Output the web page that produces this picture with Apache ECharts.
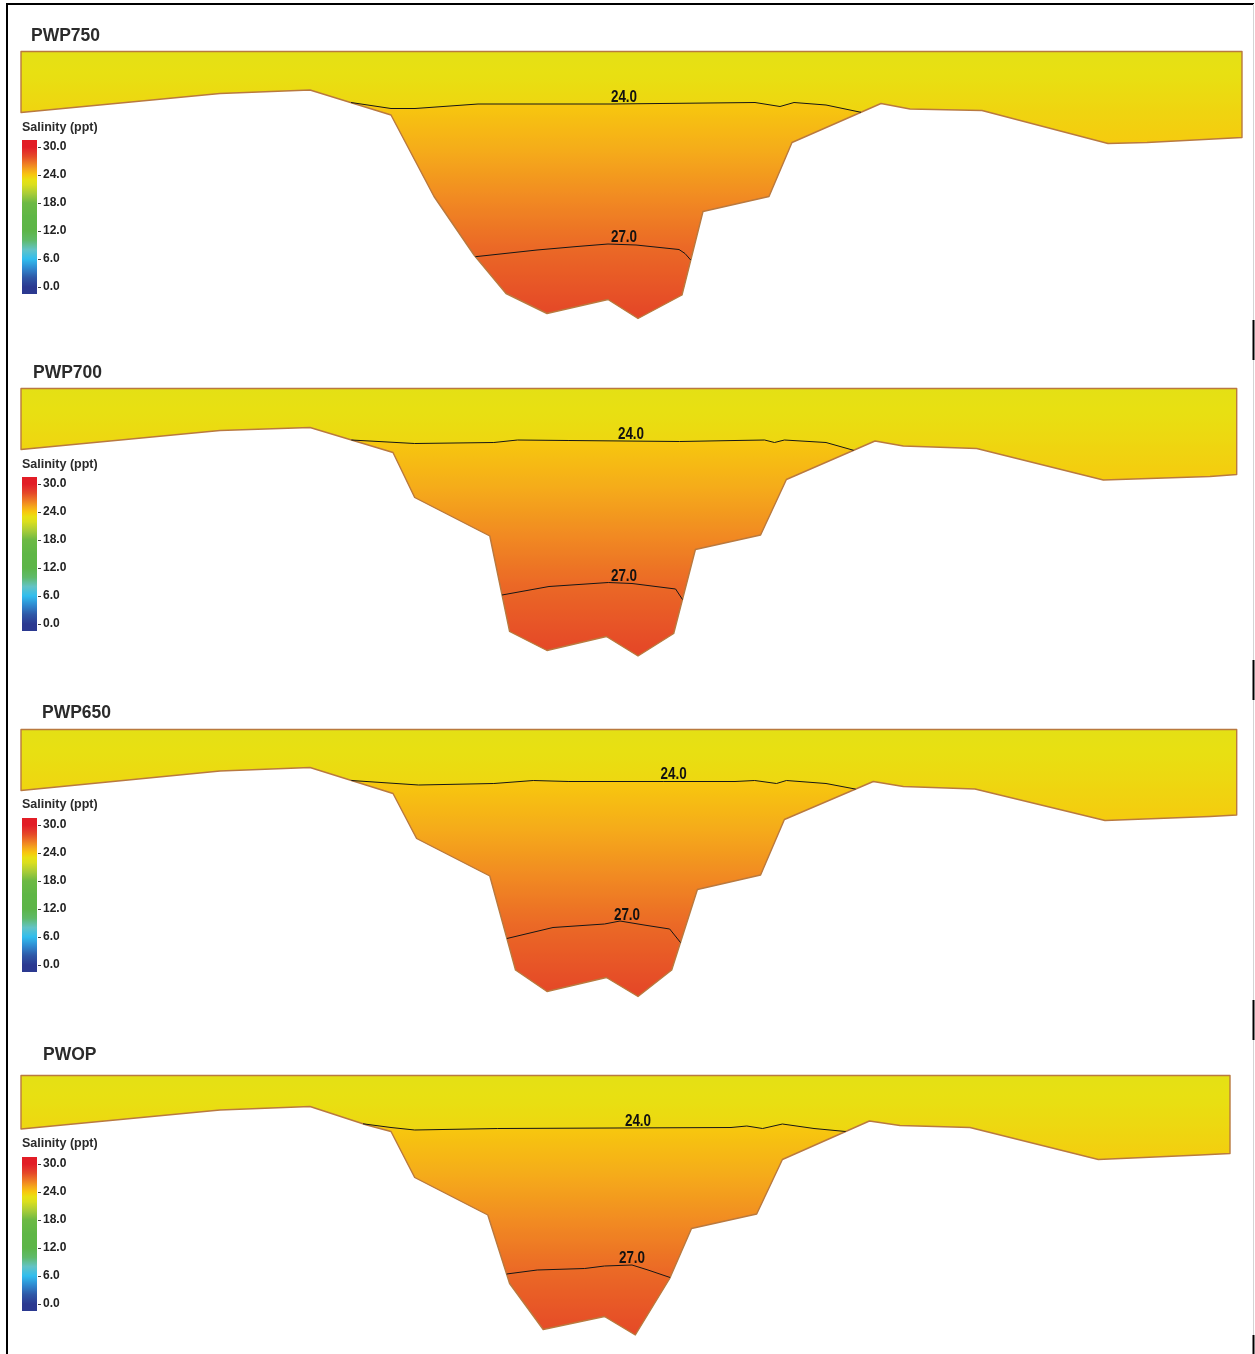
<!DOCTYPE html>
<html>
<head>
<meta charset="utf-8">
<title>Salinity cross-sections</title>
<script src="https://cdn.jsdelivr.net/npm/echarts@6/dist/echarts.min.js"></script>
<style>
  html, body { margin: 0; padding: 0; background: #ffffff; }
  #chart { width: 1255px; height: 1354px; }
</style>
</head>
<body>
<div id="chart"></div>
<script>
// ---- Data -------------------------------------------------------------
// Cross-section geometry: [distance along section, depth below surface]
const panelNames = ['PWP750', 'PWP700', 'PWP650', 'PWOP'];
const contourLevels = [24, 27];
const legendTicks = [0, 6, 12, 18, 24, 30];

const pwp750Bed = [[0,6.1],[199,4.2],[289,3.85],[370,6.35],[413,14.5],[453,20.35],[485,24.2],[526,26.2],[587,24.8],[617,26.7],[661,24.35],[682,16.0],[748,14.5],[771,9.1],[860,5.2],[889,5.75],[961,5.9],[1087,9.2],[1126,9.1],[1221,8.6]];
const pwp750Iso24 = [[330,5.1],[370,5.7],[394,5.7],[457,5.25],[591,5.25],[734,5.1],[759,5.5],[773,5.1],[805,5.35],[840,6.08]];
const pwp750Iso27 = [[454.4,20.52],[516,19.85],[556,19.5],[587,19.25],[615,19.35],[658,19.8],[664,20.2],[669.7,20.85]];

const pwp700Bed = [[0,6.1],[199,4.2],[289,3.9],[372,6.4],[393.7,10.9],[468.8,14.75],[488.6,24.3],[526,26.2],[585.4,24.8],[617,26.75],[652.7,24.5],[674.4,16.1],[739.6,14.65],[765.4,9.1],[854,5.25],[882.3,5.75],[955.7,6.0],[1082.3,9.15],[1189,8.8],[1215.7,8.6]];
const pwp700Iso24 = [[330.4,5.15],[393.7,5.5],[472.8,5.4],[496.5,5.15],[547.9,5.2],[658.6,5.3],[714,5.2],[743.6,5.15],[753.5,5.4],[763.4,5.15],[805,5.4],[832.6,6.18]];
const pwp700Iso27 = [[481,20.65],[528,19.8],[587.4,19.4],[611,19.5],[654.6,20.05],[661.5,21.1]];

const pwp650Bed = [[0,6.1],[199,4.15],[289,3.8],[372,6.4],[395.6,10.9],[468.8,14.65],[494.5,24.05],[526,26.2],[585.4,24.8],[617,26.7],[650.7,24.05],[676.4,16.0],[739.6,14.55],[763.4,9.0],[852.3,5.2],[882.3,5.7],[954,5.95],[1084,9.1],[1189,8.7],[1215.7,8.55]];
const pwp650Iso24 = [[330.4,5.1],[397.6,5.55],[472.8,5.4],[512.3,5.1],[547.9,5.2],[642.8,5.2],[714,5.2],[733.7,5.1],[755.5,5.4],[765.4,5.1],[805,5.4],[834.6,5.96]];
const pwp650Iso27 = [[485.9,20.9],[532,19.8],[583.5,19.45],[599,19.15],[623,19.55],[648.7,19.95],[659.5,21.3]];

const pwopBed = [[0,5.35],[199,3.45],[289,3.1],[345.7,4.95],[370,5.6],[393.7,10.2],[466.8,13.95],[488.6,20.8],[522.2,25.4],[583.5,24.1],[614.3,25.95],[648.7,20.3],[670.5,15.3],[735.7,13.85],[761.4,8.4],[848.4,4.55],[879,5.0],[949,5.2],[1077.3,8.4],[1179,7.95],[1209,7.8]];
const pwopIso24 = [[342,4.83],[370,5.2],[393.7,5.45],[476.7,5.3],[710,5.2],[725.8,5.05],[741.6,5.3],[761.4,4.85],[793,5.3],[824.7,5.6]];
const pwopIso27 = [[485.6,19.85],[516.2,19.45],[563.7,19.3],[583.5,19.05],[611,18.95],[627,19.45],[649.1,20.2]];

// Salinity (ppt) against depth: fresher upper layer and saltier wedge below the 24 ppt isohaline
const upperDepth = [0, 9.2];
const upperSalinity = [22.7, 23.9];
const lowerDepth = [5.2, 12.3, 19.4, 27];
const lowerSalinity = [24.0, 25.5, 27.0, 28.2];

// Colour scale of the salinity legend
const scaleValues = [0, 2, 4, 6, 8, 10, 12, 15, 18, 20, 22, 23, 24, 25, 26, 27, 28, 29, 30];
const scaleColors = ['#2b3990','#2e57a6','#2f88cf','#30bdee','#62c3c6','#5fba6a','#5cb548','#5eb646','#6cb944','#a8cc38','#dcdf1c','#e8e012','#f7c80e','#f5ab1a','#f18a22','#eb6a26','#e54a27','#e3322a','#e21d26'];

const beds = [pwp750Bed, pwp700Bed, pwp650Bed, pwopBed];
const iso24s = [pwp750Iso24, pwp700Iso24, pwp650Iso24, pwopIso24];
const iso27s = [pwp750Iso27, pwp700Iso27, pwp650Iso27, pwopIso27];

// ---- Layout -----------------------------------------------------------
const layout = {
  panelTop: [51.5, 388.5, 729.5, 1075.5],
  titleX: [31, 33, 42, 43],
  titleY: [36, 373, 713, 1055],
  legendTitleY: [128, 465, 805, 1144],
  legendTop: [147, 484, 825, 1164],
  legendSpan: 140,
  label24X: [603, 610, 652.7, 617],
  label27X: [603, 603, 606, 611],
  sectionLeft: 21,
  sectionWidth: 1220,
  depthMax: 27
};

// ---- Helpers ----------------------------------------------------------
function hexToRgb(h) {
  const n = parseInt(h.slice(1), 16);
  return [(n >> 16) & 255, (n >> 8) & 255, n & 255];
}
const scaleRgb = scaleColors.map(hexToRgb);

function salinityColor(v) {
  if (v <= scaleValues[0]) return scaleColors[0];
  const last = scaleValues.length - 1;
  if (v >= scaleValues[last]) return scaleColors[last];
  let k = 0;
  while (v > scaleValues[k + 1]) k++;
  const t = (v - scaleValues[k]) / (scaleValues[k + 1] - scaleValues[k]);
  const a = scaleRgb[k], b = scaleRgb[k + 1];
  const c = a.map((x, i) => Math.round(x + (b[i] - x) * t));
  return 'rgb(' + c.join(',') + ')';
}

function interp(xs, ys, x) {
  if (x <= xs[0]) return ys[0];
  if (x >= xs[xs.length - 1]) return ys[ys.length - 1];
  let k = 0;
  while (x > xs[k + 1]) k++;
  const t = (x - xs[k]) / (xs[k + 1] - xs[k]);
  return ys[k] + (ys[k + 1] - ys[k]) * t;
}

function depthGradient(api, depths, sals) {
  const y0 = api.coord([0, 0])[1];
  const y1 = api.coord([0, layout.depthMax])[1];
  const stops = [];
  for (let d = 0; d <= layout.depthMax + 1e-9; d += 0.5) {
    stops.push({ offset: d / layout.depthMax, color: salinityColor(interp(depths, sals, d)) });
  }
  return new echarts.graphic.LinearGradient(0, y0, 0, y1, stops, true);
}

function sectionRenderer(bed, iso24) {
  return function (params, api) {
    if (params.dataIndex !== 0) return null;
    const xEnd = bed[bed.length - 1][0];
    const outline = [[0, 0], [xEnd, 0]].concat(bed.slice().reverse());
    const x0 = iso24[0][0], x1 = iso24[iso24.length - 1][0];
    const wedge = iso24.concat(bed.filter(p => p[0] > x0 + 0.5 && p[0] < x1 - 0.5).reverse());
    const toPx = pts => pts.map(p => api.coord(p));
    return {
      type: 'group',
      children: [
        { type: 'polygon', shape: { points: toPx(outline) },
          style: { fill: depthGradient(api, upperDepth, upperSalinity), stroke: null } },
        { type: 'polygon', shape: { points: toPx(wedge) },
          style: { fill: depthGradient(api, lowerDepth, lowerSalinity), stroke: null } },
        { type: 'polygon', shape: { points: toPx(outline) },
          style: { fill: 'none', stroke: '#b9793f', lineWidth: 1.4, lineJoin: 'round' } }
      ]
    };
  };
}

// Legend bar with its tick marks on the right-hand side
function colorbarRenderer(params, api) {
  if (params.dataIndex !== 0) return null;
  const top = api.coord([0, 31.5]);
  const bottom = api.coord([1, -1.5]);
  const stops = [];
  for (let v = 31.5; v >= -1.5 - 1e-9; v -= 0.25) {
    stops.push({ offset: (31.5 - v) / 33, color: salinityColor(v) });
  }
  const children = [{
    type: 'rect',
    shape: { x: top[0], y: top[1], width: bottom[0] - top[0], height: bottom[1] - top[1] },
    style: { fill: new echarts.graphic.LinearGradient(0, top[1], 0, bottom[1], stops, true) }
  }];
  legendTicks.forEach(t => {
    const p = api.coord([1, t]);
    const y = Math.round(p[1]) + 0.5;
    children.push({
      type: 'line',
      shape: { x1: p[0] + 1, y1: y, x2: p[0] + 4, y2: y },
      style: { stroke: '#3a3a3a', lineWidth: 1 }
    });
  });
  return { type: 'group', children: children };
}

// Contour labels sit on the isohaline, in a condensed bold face
function contourLabelRenderer(params, api) {
  const p = api.coord([api.value(0), api.value(1)]);
  return {
    type: 'text',
    x: p[0], y: p[1] + 1.5,
    scaleX: 0.84,
    style: {
      text: api.value(2).toFixed(1),
      font: 'bold 16px "Liberation Sans", Arial, sans-serif',
      fill: '#111', align: 'center', verticalAlign: 'bottom'
    }
  };
}

function labelPoint(line, x) {
  return [x, interp(line.map(p => p[0]), line.map(p => p[1]), x)];
}

// ---- Option -----------------------------------------------------------
const grid = [], xAxis = [], yAxis = [], series = [], graphic = [];
const sansBold = '"Liberation Sans", Arial, sans-serif';

panelNames.forEach((name, i) => {
  const gs = 2 * i, gl = 2 * i + 1;
  grid.push({ left: layout.sectionLeft, top: layout.panelTop[i], width: layout.sectionWidth,
              height: layout.depthMax * 10 });
  grid.push({ left: 22, top: layout.legendTop[i], width: 15, height: layout.legendSpan });

  xAxis.push({ gridIndex: gs, type: 'value', min: 0, max: layout.sectionWidth, show: false });
  xAxis.push({ gridIndex: gl, type: 'value', min: 0, max: 1, show: false });
  yAxis.push({ gridIndex: gs, type: 'value', min: 0, max: layout.depthMax, inverse: true, show: false });
  yAxis.push({
    gridIndex: gl, type: 'value', min: 0, max: 30, interval: 6, position: 'right',
    axisLine: { show: false },
    axisTick: { show: false },
    splitLine: { show: false },
    axisLabel: {
      margin: 6, showMinLabel: true, showMaxLabel: true,
      formatter: v => v.toFixed(1),
      fontFamily: sansBold, fontWeight: 'bold', fontSize: 12, color: '#222'
    }
  });

  series.push({
    type: 'custom', name: name, xAxisIndex: gs, yAxisIndex: gs,
    data: beds[i], encode: { x: 0, y: 1 },
    renderItem: sectionRenderer(beds[i], iso24s[i]),
    silent: true, z: 2
  });

  const isoLines = [iso24s[i], iso27s[i]];
  const labelXs = [layout.label24X[i], layout.label27X[i]];
  const labelData = [];
  contourLevels.forEach((level, k) => {
    series.push({
      type: 'line', xAxisIndex: gs, yAxisIndex: gs,
      data: isoLines[k], symbol: 'none', smooth: false, silent: true, z: 5,
      lineStyle: { color: '#161616', width: 1 }
    });
    labelData.push(labelPoint(isoLines[k], labelXs[k]).concat([level]));
  });
  series.push({
    type: 'custom', xAxisIndex: gs, yAxisIndex: gs,
    data: labelData, encode: { x: 0, y: 1 },
    renderItem: contourLabelRenderer, silent: true, z: 6
  });

  series.push({
    type: 'custom', xAxisIndex: gl, yAxisIndex: gl,
    data: [[0.5, 15]], encode: { x: 0, y: 1 },
    renderItem: colorbarRenderer, silent: true, z: 2
  });

  graphic.push({
    type: 'text', x: layout.titleX[i], y: layout.titleY[i], silent: true,
    style: { text: name, font: 'bold 17.5px ' + sansBold, fill: '#2b2b2b', verticalAlign: 'middle' }
  });
  graphic.push({
    type: 'text', x: 22, y: layout.legendTitleY[i], silent: true,
    style: { text: 'Salinity (ppt)', font: 'bold 12.5px ' + sansBold, fill: '#2b2b2b', verticalAlign: 'middle' }
  });
});

// Page frame
graphic.push({ type: 'line', silent: true, shape: { x1: 7, y1: 3, x2: 7, y2: 1354 },
               style: { stroke: '#000', lineWidth: 2 } });
graphic.push({ type: 'line', silent: true, shape: { x1: 6, y1: 4, x2: 1254, y2: 4 },
               style: { stroke: '#000', lineWidth: 2 } });
graphic.push({ type: 'line', silent: true, shape: { x1: 1253.5, y1: 4, x2: 1253.5, y2: 1354 },
               style: { stroke: '#d4d4d4', lineWidth: 1 } });
[[320, 360], [660, 700], [1000, 1040], [1335, 1354]].forEach(seg => {
  graphic.push({ type: 'line', silent: true, shape: { x1: 1253.5, y1: seg[0], x2: 1253.5, y2: seg[1] },
                 style: { stroke: '#000', lineWidth: 2 } });
});

const chart = echarts.init(document.getElementById('chart'), null, { renderer: 'canvas' });
chart.setOption({
  backgroundColor: '#ffffff',
  animation: false,
  grid: grid,
  xAxis: xAxis,
  yAxis: yAxis,
  series: series,
  graphic: graphic
});
</script>
</body>
</html>
